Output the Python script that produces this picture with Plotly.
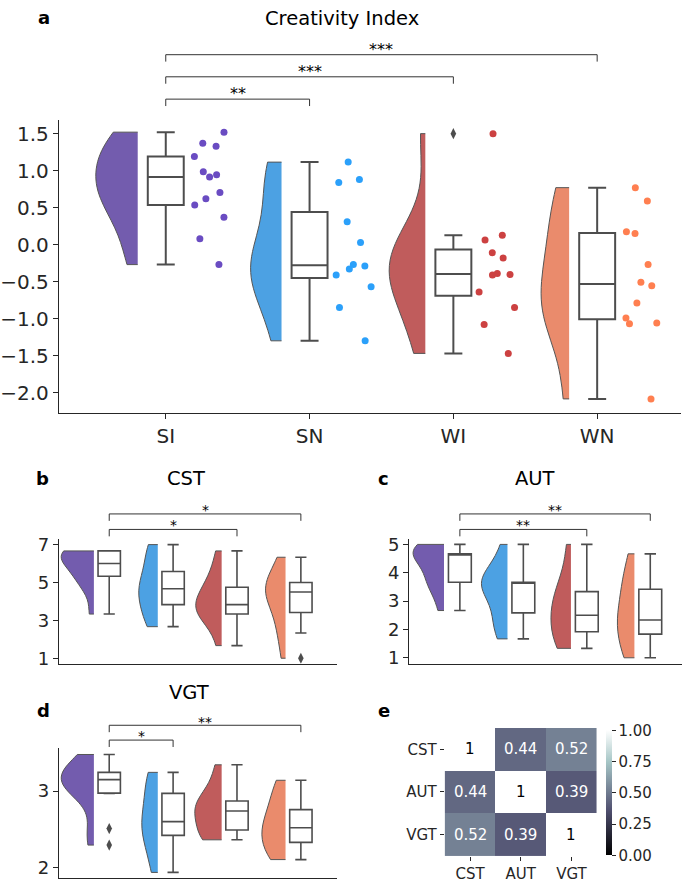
import numpy as np
import plotly.graph_objects as go

W, H = 685, 887
groups = ["SI", "SN", "WI", "WN"]

# ---- Panel a: Creativity Index (values read from the rain points)
ci_SI = [1.52, 1.37, 1.33, 1.19, 0.985, 0.945, 0.915, 0.705, 0.62, 0.535, 0.37, 0.08, -0.27]
ci_SN = [1.115, 0.88, 0.84, 0.31, 0.03, -0.27, -0.29, -0.33, -0.41, -0.57, -0.85, -1.30]
ci_WI = [1.50, 0.126, 0.063, -0.11, -0.18, -0.39, -0.405, -0.41, -0.64, -0.85, -1.08, -1.47]
ci_WN = [0.77, 0.59, 0.174, 0.15, -0.267, -0.51, -0.555, -0.79, -0.99, -1.06, -1.07, -2.085]

# ---- Panel b: CST (estimated from the box/violin shapes)
cst_SI = [3.333, 4.667, 5.0, 5.333, 5.667, 6.0, 6.0, 6.333, 6.667, 6.667, 6.667, 6.667, 6.667]
cst_SN = [2.667, 3.0, 3.333, 4.0, 4.333, 4.333, 5.0, 5.0, 5.333, 6.333, 6.667, 7.0]
cst_WI = [1.667, 3.0, 3.333, 3.333, 3.667, 3.667, 4.0, 4.333, 4.667, 5.0, 5.667, 6.667]
cst_WN = [1.0, 2.333, 2.667, 3.667, 4.0, 4.333, 4.667, 4.667, 5.0, 5.0, 5.667, 6.333]

# ---- Panel c: AUT
aut_SI = [2.667, 3.333, 3.667, 3.667, 4.0, 4.333, 4.667, 4.667, 4.667, 4.667, 5.0, 5.0, 5.0]
aut_SN = [1.667, 2.0, 2.333, 2.667, 3.333, 3.667, 3.667, 3.667, 3.667, 3.667, 4.333, 5.0]
aut_WI = [1.333, 1.333, 1.667, 2.0, 2.333, 2.333, 2.667, 3.0, 3.333, 3.333, 4.0, 5.0]
aut_WN = [1.0, 1.333, 1.333, 2.0, 2.333, 2.333, 2.333, 3.0, 3.333, 3.667, 4.0, 4.667]

# ---- Panel d: VGT
vgt_SI = [2.293, 2.509, 2.970, 2.974, 3.05, 3.10, 3.151, 3.18, 3.21, 3.246, 3.30, 3.38, 3.48]
vgt_SN = [1.935, 2.10, 2.33, 2.45, 2.50, 2.56, 2.64, 2.78, 2.93, 3.09, 3.20, 3.246]
vgt_WI = [2.362, 2.38, 2.40, 2.52, 2.62, 2.70, 2.78, 2.82, 2.85, 2.93, 3.10, 3.345]
vgt_WN = [2.103, 2.15, 2.25, 2.355, 2.40, 2.48, 2.56, 2.65, 2.72, 2.87, 3.00, 3.142]

# ---- significance brackets
sig_a = [("SI", "WN", "***"), ("SI", "WI", "***"), ("SI", "SN", "**")]
sig_b = [("SI", "WN", "*"), ("SI", "WI", "*")]
sig_c = [("SI", "WN", "**"), ("SI", "WI", "**")]
sig_d = [("SI", "WN", "**"), ("SI", "SN", "*")]

# ---- Panel e: correlation matrix
corr_labels = ["CST", "AUT", "VGT"]
corr_CST = [1.0, 0.44, 0.52]
corr_AUT = [0.44, 1.0, 0.39]
corr_VGT = [0.52, 0.39, 1.0]

violin_colors = ["#735cae", "#4ca1e3", "#c05c5c", "#ea8b6c"]
point_colors = ["#6a4cc2", "#2ba0fa", "#cc4141", "#ff7f50"]
BOX_LINE = "#4d4d4d"
AX = "#262626"
FONT = "DejaVu Sans"

# violin full widths (data units) per panel, matching the area-scaled look
vw_a = [0.583, 0.43, 0.50, 0.39]
vw_b = [1.02, 0.594, 0.81, 0.625]
vw_c = [0.975, 0.82, 0.63, 0.535]
vw_d = [1.02, 0.50, 0.84, 0.74]


def pxx(x):
    return x / W


def pxy(y):
    return 1 - y / H


def box_stats(vals):
    a = np.sort(np.asarray(vals, float))
    q1, med, q3 = np.percentile(a, [25, 50, 75])
    iqr = q3 - q1
    lo = a[a >= q1 - 1.5 * iqr].min()
    hi = a[a <= q3 + 1.5 * iqr].max()
    out = a[(a < lo) | (a > hi)]
    return q1, med, q3, lo, hi, out


def scott_bw(vals):
    a = np.asarray(vals, float)
    return a.std(ddof=1) * len(a) ** (-0.2)


fig = go.Figure()


def raincloud(datasets, xa, ya, v_off, v_widths, b_width, lw, rain=False):
    for i, vals in enumerate(datasets):
        fig.add_trace(go.Violin(
            y=vals, x0=i + v_off, side="negative", width=v_widths[i],
            scalemode="width", spanmode="hard",
            bandwidth=scott_bw(vals), points=False,
            fillcolor=violin_colors[i], opacity=1,
            line=dict(color="#555555", width=1),
            box_visible=False, meanline_visible=False,
            xaxis=xa, yaxis=ya, hoverinfo="skip", showlegend=False))
        q1, med, q3, lo, hi, out = box_stats(vals)
        fig.add_trace(go.Box(
            x=[i], q1=[q1], median=[med], q3=[q3], lowerfence=[lo], upperfence=[hi],
            width=b_width, whiskerwidth=0.5, fillcolor="white",
            line=dict(color=BOX_LINE, width=lw), boxpoints=False,
            xaxis=xa, yaxis=ya, hoverinfo="skip", showlegend=False))
        if len(out):
            fig.add_trace(go.Scatter(
                x=[i] * len(out), y=out, mode="markers",
                marker=dict(symbol="diamond-tall", size=8, color=BOX_LINE),
                xaxis=xa, yaxis=ya, hoverinfo="skip", showlegend=False))
        if rain:
            fig.add_trace(go.Box(
                y=vals, x0=i + 0.31, width=0.32, boxpoints="all", jitter=1,
                pointpos=0, fillcolor="rgba(0,0,0,0)",
                line=dict(color="rgba(0,0,0,0)", width=0),
                marker=dict(color=point_colors[i], size=7),
                xaxis=xa, yaxis=ya, hoverinfo="skip", showlegend=False))


raincloud([ci_SI, ci_SN, ci_WI, ci_WN], "x", "y", -0.195, vw_a, 0.25, 2, rain=True)
raincloud([cst_SI, cst_SN, cst_WI, cst_WN], "x2", "y2", -0.24, vw_b, 0.35, 1.6)
raincloud([aut_SI, aut_SN, aut_WI, aut_WN], "x3", "y3", -0.25, vw_c, 0.36, 1.6)
raincloud([vgt_SI, vgt_SN, vgt_WI, vgt_WN], "x4", "y4", -0.24, vw_d, 0.35, 1.6)

# heatmap
bone = [[0.0, "rgb(0,0,0)"], [0.365079, "rgb(81,81,113)"],
        [0.746032, "rgb(166,198,198)"], [1.0, "rgb(255,255,255)"]]
corr = [corr_CST, corr_AUT, corr_VGT]
fig.add_trace(go.Heatmap(
    z=corr, x=corr_labels, y=corr_labels, colorscale=bone, zmin=0, zmax=1,
    xaxis="x5", yaxis="y5", hoverinfo="skip",
    colorbar=dict(x=pxx(606), xanchor="left", xpad=0, ypad=0,
                  thickness=6, thicknessmode="pixels",
                  len=127 / H, lenmode="fraction", y=pxy(796.7), yanchor="middle",
                  tickvals=[0, 0.25, 0.5, 0.75, 1.0], tickformat=".2f",
                  ticks="outside", ticklen=4, tickcolor=AX, outlinewidth=0,
                  tickfont=dict(family=FONT, size=15, color=AX))))

annotations = []
shapes = []
for r, row in enumerate(corr):
    for c, v in enumerate(row):
        annotations.append(dict(
            x=corr_labels[c], y=corr_labels[r], xref="x5", yref="y5",
            text=f"{v:.2g}", showarrow=False,
            font=dict(family=FONT, size=15, color="black" if v > 0.8 else "white")))


def brackets(sig, xref, line_px, star_px, fsize):
    for (g0, g1, txt), ly, sy in zip(sig, line_px, star_px):
        x0, x1 = groups.index(g0), groups.index(g1)
        y_top, y_bot = pxy(ly), pxy(ly + 7)
        shapes.append(dict(type="path", xref=xref, yref="paper",
                           path=f"M {x0},{y_bot} L {x0},{y_top} L {x1},{y_top} L {x1},{y_bot}",
                           line=dict(color="#333333", width=1)))
        annotations.append(dict(x=(x0 + x1) / 2, y=pxy(sy), xref=xref, yref="paper",
                                text=txt, showarrow=False, yanchor="middle",
                                font=dict(family=FONT, size=fsize, color="black")))


brackets(sig_a, "x", [49.3, 71.7, 94.3], [44.5, 66.5, 89], 16)
brackets(sig_b, "x2", [514.3, 530], [510.5, 526], 14)
brackets(sig_c, "x3", [514.3, 530], [510.5, 526], 14)
brackets(sig_d, "x4", [728.3, 743.3], [724.5, 739.5], 14)


def label(x, y, text, size, bold=False):
    annotations.append(dict(x=pxx(x), y=pxy(y), xref="paper", yref="paper",
                            text=f"<b>{text}</b>" if bold else text, showarrow=False,
                            xanchor="center", yanchor="middle",
                            font=dict(family=FONT, size=size, color="black")))


label(341.5, 13, "Creativity Index", 19.5)
label(43, 12, "a", 18, True)
label(185, 478, "CST", 19.5)
label(42, 478, "b", 18, True)
label(535, 478, "AUT", 19.5)
label(383, 478, "c", 18, True)
label(188, 695, "VGT", 19.5)
label(43, 713, "d", 18, True)
label(384, 713, "e", 18, True)


def yax(dom, rng, tickvals, fmt, size):
    return dict(domain=dom, range=rng, tickvals=tickvals, tickformat=fmt,
                showline=True, linecolor=AX, linewidth=1.3, ticks="outside",
                ticklen=5, tickwidth=1.2, tickcolor=AX, showgrid=False, zeroline=False,
                tickfont=dict(family=FONT, size=size, color=AX), fixedrange=True)


def xax(dom, rng, anchor, labels=False):
    d = dict(domain=dom, range=rng, type="linear", anchor=anchor, showline=True,
             linecolor=AX, linewidth=1.3, showgrid=False, zeroline=False, fixedrange=True)
    if labels:
        d.update(tickvals=[0, 1, 2, 3], ticktext=groups, ticks="outside", ticklen=5,
                 tickwidth=1.2, tickcolor=AX,
                 tickfont=dict(family=FONT, size=20, color=AX))
    else:
        d.update(showticklabels=False, ticks="")
    return d


fig.update_layout(
    width=W, height=H, margin=dict(l=0, r=0, t=0, b=0),
    paper_bgcolor="white", plot_bgcolor="white", showlegend=False,
    violinmode="overlay", boxmode="overlay",
    xaxis=xax([pxx(58), pxx(681)], [-0.743, 3.583], "y", labels=True),
    yaxis=yax([pxy(411.7), pxy(115)], [-2.27, 1.69],
              [-2.0, -1.5, -1.0, -0.5, 0.0, 0.5, 1.0, 1.5], ".1f", 20),
    xaxis2=xax([pxx(58), pxx(336)], [-0.7875, 3.558], "y2"),
    yaxis2=dict(yax([pxy(666), pxy(540)], [0.71, 7.28], [1, 3, 5, 7], "d", 18), anchor="x2"),
    xaxis3=xax([pxx(408.7), pxx(682)], [-0.8, 3.5], "y3"),
    yaxis3=dict(yax([pxy(666), pxy(540)], [0.79, 5.18], [1, 2, 3, 4, 5], "d", 18), anchor="x3"),
    xaxis4=xax([pxx(58), pxx(336)], [-0.7875, 3.558], "y4"),
    yaxis4=dict(yax([pxy(882.7), pxy(751.7)], [1.865, 3.56], [2, 3], "d", 18), anchor="x4"),
    xaxis5=dict(domain=[pxx(444.3), pxx(596.7)], anchor="y5", showline=False, showgrid=False,
                zeroline=False, ticks="outside", ticklen=4, tickcolor=AX, fixedrange=True,
                tickfont=dict(family=FONT, size=15, color=AX)),
    yaxis5=dict(domain=[pxy(860.7), pxy(731)], anchor="x5", autorange="reversed",
                showline=False, showgrid=False, zeroline=False, ticks="outside",
                ticklen=4, tickcolor=AX, fixedrange=True,
                tickfont=dict(family=FONT, size=15, color=AX)),
    annotations=annotations, shapes=shapes,
)

fig.write_html("out.html", config={"displayModeBar": False},
               post_script="document.body.style.margin='0px';")
